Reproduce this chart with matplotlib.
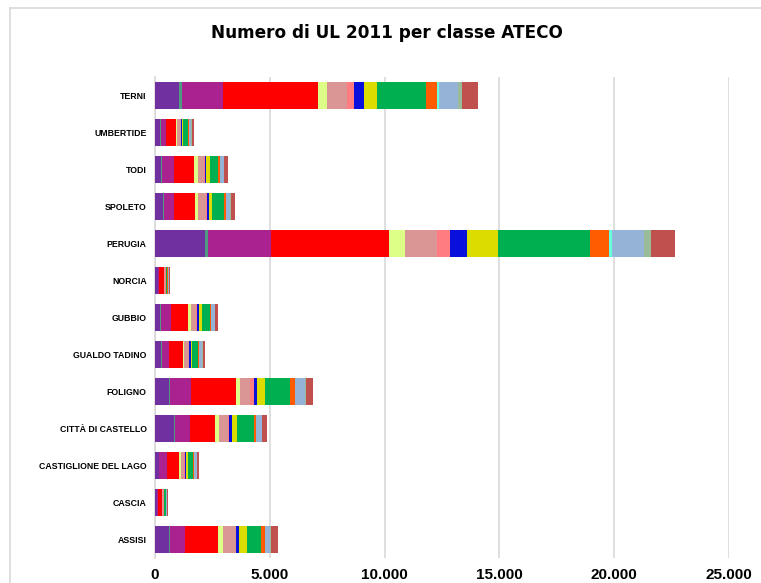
import matplotlib
matplotlib.use("Agg")
import matplotlib.pyplot as plt
from matplotlib.lines import Line2D
from matplotlib.ticker import FuncFormatter

# comuni (dal basso verso l'alto)
comuni = ["ASSISI", "CASCIA", "CASTIGLIONE DEL LAGO", "CITTÀ DI CASTELLO", "FOLIGNO",
          "GUALDO TADINO", "GUBBIO", "NORCIA", "PERUGIA", "SPOLETO", "TODI",
          "UMBERTIDE", "TERNI"]

# UL per classe ATECO (valori stimati dal grafico)
cl_01 = [610, 80, 157, 827, 623, 274, 231, 113, 2178, 331, 274, 231, 1045]
cl_02 = [30, 5, 15, 30, 30, 15, 29, 5, 118, 44, 30, 13, 131]
cl_03 = [666, 50, 366, 680, 901, 335, 449, 60, 2744, 466, 536, 218, 1799]
cl_04 = [1450, 160, 505, 1075, 1973, 579, 727, 200, 5165, 915, 841, 435, 4111]
cl_05 = [218, 25, 74, 161, 174, 61, 131, 20, 684, 100, 205, 74, 405]
cl_06 = [540, 50, 145, 405, 436, 200, 218, 50, 1407, 366, 261, 145, 884]
cl_07 = [26, 10, 29, 44, 161, 29, 58, 10, 566, 44, 29, 29, 305]
cl_08 = [131, 10, 74, 131, 157, 58, 74, 10, 727, 100, 58, 44, 436]
cl_09 = [322, 15, 58, 231, 322, 44, 113, 15, 1363, 118, 145, 44, 553]
cl_10 = [623, 60, 218, 714, 1102, 279, 366, 60, 3994, 505, 379, 218, 2134]
cl_11 = [174, 15, 58, 87, 218, 58, 26, 20, 827, 87, 58, 29, 479]
cl_12 = [5, 2, 5, 10, 15, 5, 5, 2, 144, 10, 5, 5, 74]
cl_13 = [231, 30, 105, 261, 422, 118, 174, 30, 1380, 174, 174, 100, 841]
cl_14 = [13, 5, 15, 26, 30, 15, 29, 5, 292, 29, 29, 13, 161]
cl_15 = [305, 30, 87, 205, 318, 113, 100, 40, 1071, 174, 145, 87, 710]

classi = [cl_01, cl_02, cl_03, cl_04, cl_05, cl_06, cl_07, cl_08,
          cl_09, cl_10, cl_11, cl_12, cl_13, cl_14, cl_15]
colori = ["#7030A0", "#4E9A83", "#AA2290", "#FF0000", "#DDFF88", "#DA9694",
          "#FF7C80", "#0A10DC", "#DCDC00", "#00B050", "#FF5B00", "#66FFE0",
          "#95B3D7", "#99BB99", "#C0504D"]

fig = plt.figure(figsize=(7.61, 5.83), dpi=100)
ax = fig.add_axes([155 / 761, 1 - 558 / 583, 574 / 761, (558 - 77) / 583])

y = list(range(len(comuni)))
left = [0] * len(comuni)
for vals, col in zip(classi, colori):
    ax.barh(y, vals, left=left, height=0.72, color=col, linewidth=0, zorder=3)
    left = [a + b for a, b in zip(left, vals)]

ax.set_xlim(0, 25000)
ax.set_ylim(-0.5, len(comuni) - 0.5)
ax.set_xticks(range(0, 25001, 5000))
ax.xaxis.set_major_formatter(FuncFormatter(lambda v, p: f"{int(v):,}".replace(",", ".")))
ax.set_yticks(y)
ax.set_yticklabels(comuni, fontsize=6.3, fontweight="bold", family="Liberation Sans")
for lab in ax.get_xticklabels():
    lab.set_fontweight("bold")
    lab.set_fontsize(11)
    lab.set_family("Liberation Sans")
ax.tick_params(axis="x", length=0, pad=7)
ax.tick_params(axis="y", length=0, pad=6)
ax.grid(axis="x", color="#D9D9D9", linewidth=1.2, zorder=0)
for s in ["top", "right", "bottom"]:
    ax.spines[s].set_visible(False)
ax.spines["left"].set_color("#D9D9D9")
ax.spines["left"].set_linewidth(1.2)

fig.text(387 / 761, 1 - 33 / 583, "Numero di UL 2011 per classe ATECO",
         ha="center", va="center", fontsize=12.2, fontweight="bold")

# cornice del grafico
fig.add_artist(Line2D([10 / 761, 1], [1 - 8 / 583, 1 - 8 / 583], color="#D9D9D9", lw=1.2))
fig.add_artist(Line2D([10 / 761, 10 / 761], [0, 1 - 8 / 583], color="#D9D9D9", lw=1.2))

fig.savefig("out.png", dpi=100)
